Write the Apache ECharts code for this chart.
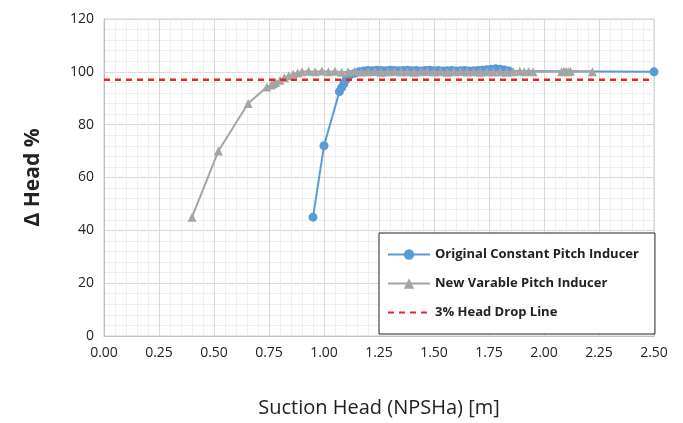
<!DOCTYPE html>
<html>
<head>
<meta charset="utf-8">
<script src="https://cdn.jsdelivr.net/npm/echarts@6/dist/echarts.min.js"></script>
<style>
  html, body { margin: 0; padding: 0; background: #fff; }
  #chart { width: 683px; height: 423px; }
</style>
</head>
<body>
<div id="chart"></div>
<script>
// series names
const seriesNames = ['Original Constant Pitch Inducer', 'New Varable Pitch Inducer', '3% Head Drop Line']

// original constant pitch inducer (suction head m, head %)
const originalX = [0.95, 1.00, 1.07, 1.08, 1.09, 1.10, 1.11, 1.12, 1.14, 1.16, 1.18, 1.20, 1.22, 1.24, 1.26, 1.28,
  1.30, 1.32, 1.34, 1.36, 1.38, 1.40, 1.42, 1.44, 1.46, 1.48, 1.50, 1.52, 1.54, 1.56, 1.58, 1.60, 1.62,
  1.64, 1.66, 1.68, 1.70, 1.72, 1.74, 1.76, 1.78, 1.80, 1.82, 1.84, 2.50]
const originalY = [45, 72, 92.5, 94, 95.5, 97, 98, 99, 99.5, 100, 100.3, 100.5, 100.4, 100.6, 100.5, 100.4,
  100.6, 100.5, 100.4, 100.5, 100.6, 100.4, 100.5, 100.3, 100.5, 100.6, 100.4, 100.5, 100.3, 100.4, 100.5, 100.3,
  100.4, 100.5, 100.3, 100.4, 100.5, 100.6, 100.8, 101, 101.2, 101, 100.7, 100.3, 100]

// new variable pitch inducer
const newX = [0.40, 0.52, 0.655, 0.74, 0.76, 0.77, 0.78, 0.80, 0.82, 0.84, 0.86, 0.88, 0.90, 0.93, 0.96, 0.99,
  1.02, 1.05, 1.08, 1.11, 1.14, 1.17, 1.20, 1.23, 1.26, 1.29, 1.32, 1.35, 1.38, 1.41, 1.44, 1.47, 1.50,
  1.53, 1.56, 1.59, 1.62, 1.65, 1.68, 1.71, 1.74, 1.77, 1.80, 1.83, 1.86, 1.89, 1.91, 1.93, 1.95,
  2.08, 2.09, 2.10, 2.11, 2.12, 2.22]
const newY = [45, 70, 88, 94.3, 95, 95.5, 96, 96.8, 97.8, 98.5, 99.2, 99.6, 100, 100.2, 100, 100.3,
  100, 100.2, 99.8, 100, 100.2, 99.9, 100, 100.1, 99.8, 100, 100.1, 99.9, 100, 99.8, 100, 100.1, 99.9,
  100, 99.8, 100, 100.1, 99.9, 100, 99.8, 100, 99.9, 100, 99.8, 100, 100.2, 100, 100.1, 100,
  100, 100.2, 100.1, 100, 100.2, 100]

// 3% head drop line
const dropX = [0, 2.50]
const dropY = [97, 97]

const zip = (xs, ys) => xs.map((x, i) => [x, ys[i]])

const chart = echarts.init(document.getElementById('chart'))
const fontFamily = 'Open Sans'

const option = {
  animation: false,
  backgroundColor: '#fff',
  textStyle: { fontFamily },
  grid: {
    left: 104, right: 29, top: 19, bottom: 86,
    show: true, borderColor: '#d0d0d0', borderWidth: 1
  },
  legend: {
    orient: 'vertical',
    left: 379,
    top: 233,
    padding: [15, 16, 15, 8],
    itemGap: 16,
    itemWidth: 42,
    itemHeight: 13,
    backgroundColor: '#fff',
    borderColor: '#222',
    borderWidth: 1,
    borderRadius: 0,
    textStyle: { fontFamily, fontSize: 13, fontWeight: 'bold', color: '#222' },
    data: [
      seriesNames[0],
      seriesNames[1],
      { name: seriesNames[2], itemStyle: { opacity: 0 } }
    ]
  },
  xAxis: {
    type: 'value',
    min: 0,
    max: 2.5,
    interval: 0.25,
    name: 'Suction Head (NPSHa) [m]',
    nameLocation: 'middle',
    nameGap: 62,
    nameTextStyle: { fontFamily, fontSize: 20, color: '#222' },
    axisLine: { lineStyle: { color: '#bfbfbf' } },
    axisTick: { show: false },
    axisLabel: { fontSize: 14, color: '#222', margin: 10, formatter: v => v.toFixed(2) },
    splitLine: { lineStyle: { color: '#d9d9d9' } },
    minorTick: { show: false, splitNumber: 5 },
    minorSplitLine: { show: true, lineStyle: { color: '#efefef' } }
  },
  yAxis: {
    type: 'value',
    min: 0,
    max: 120,
    interval: 20,
    name: 'Δ Head %',
    nameLocation: 'middle',
    nameGap: 60,
    nameRotate: 90,
    nameTextStyle: { fontFamily, fontSize: 21, fontWeight: 'bold', color: '#222' },
    axisLine: { show: true, lineStyle: { color: '#bfbfbf' } },
    axisTick: { show: false },
    axisLabel: { fontSize: 14, color: '#222', margin: 10 },
    splitLine: { lineStyle: { color: '#d9d9d9' } },
    minorTick: { show: false, splitNumber: 5 },
    minorSplitLine: { show: true, lineStyle: { color: '#efefef' } }
  },
  series: [
    {
      name: seriesNames[0],
      type: 'line',
      data: zip(originalX, originalY),
      symbol: 'circle',
      symbolSize: 9,
      color: '#5b9bd5',
      lineStyle: { width: 2, color: '#5b9bd5' },
      itemStyle: { color: '#5b9bd5' },
      z: 2
    },
    {
      name: seriesNames[1],
      type: 'line',
      data: zip(newX, newY),
      symbol: 'triangle',
      symbolSize: 9,
      color: '#a5a5a5',
      lineStyle: { width: 2, color: '#a5a5a5' },
      itemStyle: { color: '#a5a5a5' },
      z: 3
    },
    {
      name: seriesNames[2],
      type: 'line',
      data: zip(dropX, dropY),
      symbol: 'none',
      color: '#e8261f',
      lineStyle: { width: 2.5, color: '#e8261f', type: [6, 5] },
      z: 4
    }
  ]
}

chart.setOption(option)
</script>
</body>
</html>
